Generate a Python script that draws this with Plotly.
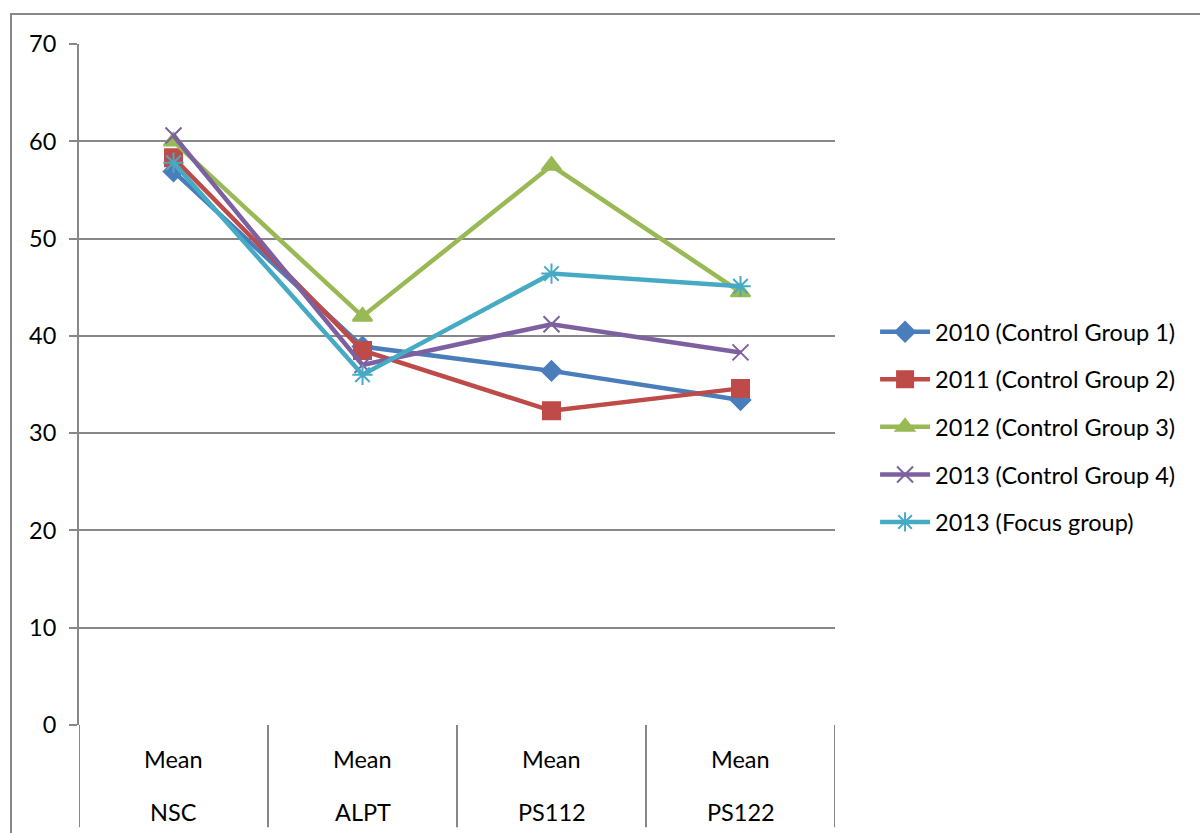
import plotly.graph_objects as go

categories = ["NSC", "ALPT", "PS112", "PS122"]
row_label = "Mean"

series_names = [
    "2010 (Control Group 1)",
    "2011 (Control Group 2)",
    "2012 (Control Group 3)",
    "2013 (Control Group 4)",
    "2013 (Focus group)",
]
values_2010 = [56.9, 38.9, 36.4, 33.4]
values_2011 = [58.3, 38.5, 32.3, 34.6]
values_2012 = [60.0, 42.0, 57.5, 44.5]
values_2013_cg4 = [60.6, 37.0, 41.2, 38.3]
values_2013_focus = [57.8, 36.0, 46.4, 45.1]

all_values = [values_2010, values_2011, values_2012, values_2013_cg4, values_2013_focus]
colors = ["#4A7EBB", "#BE4B48", "#98B954", "#7D60A0", "#46AAC5"]
symbols = ["diamond", "square", "triangle-up", "x-thin-open", "asterisk-open"]
sizes = [15, 17, 17, 16, 17]

FONT = "Lato"
FS = 23.5
GRID = "#878787"

fig = go.Figure()
xs = list(range(len(categories)))
for name, vals, c, s, sz in zip(series_names, all_values, colors, symbols, sizes):
    fig.add_trace(go.Scatter(
        x=xs, y=vals, name=name, mode="lines+markers",
        legendgroup=name,
        line=dict(color=c, width=4.5),
        marker=dict(symbol=s, size=sz, color=c, line=dict(color=c, width=2)),
    ))

fig.update_layout(
    width=1200, height=833,
    paper_bgcolor="white", plot_bgcolor="white",
    margin=dict(l=79, r=365, t=44, b=108),
    font=dict(family=FONT, size=FS, color="#000000"),
    xaxis=dict(
        range=[-0.5, len(categories) - 0.5],
        tickvals=xs, showticklabels=False,
        showgrid=False, zeroline=False, showline=False,
        ticks="", automargin=False,
        fixedrange=True,
    ),
    yaxis=dict(
        range=[0, 70], dtick=10, tick0=0,
        showgrid=True, gridcolor=GRID, gridwidth=2,
        zeroline=False, showline=True, linecolor=GRID, linewidth=2,
        ticks="outside", ticklen=8, tickcolor=GRID, tickwidth=2,
        ticklabelstandoff=8, automargin=False,
        tickfont=dict(size=FS),
    ),
    legend=dict(
        x=1.053, xanchor="left", y=0.4376, yanchor="middle",
        traceorder="grouped", tracegroupgap=14,
        itemwidth=50, font=dict(size=FS),
        bgcolor="rgba(0,0,0,0)",
    ),
    showlegend=True,
)

# two-level category labels
for i, cat in enumerate(categories):
    fig.add_annotation(x=i, y=0, xref="x", yref="paper", text=row_label,
                       showarrow=False, yanchor="middle", yshift=-34,
                       font=dict(size=FS))
    fig.add_annotation(x=i, y=0, xref="x", yref="paper", text=cat,
                       showarrow=False, yanchor="middle", yshift=-87,
                       font=dict(size=FS))

# category separators below the plot area
bottom = -0.15
for k in range(len(categories) + 1):
    fig.add_shape(type="line", xref="x", yref="paper",
                  x0=k - 0.5, x1=k - 0.5, y0=0, y1=bottom,
                  line=dict(color=GRID, width=2))
# outer chart border (top and left)
fig.add_shape(type="line", xref="paper", yref="paper",
              x0=-69 / 756, x1=1.6, y0=1 + 30 / 681, y1=1 + 30 / 681,
              line=dict(color=GRID, width=2))
fig.add_shape(type="line", xref="paper", yref="paper",
              x0=-68 / 756, x1=-68 / 756, y0=1 + 30 / 681, y1=-0.3,
              line=dict(color=GRID, width=2))

fig.write_html("out.html")
